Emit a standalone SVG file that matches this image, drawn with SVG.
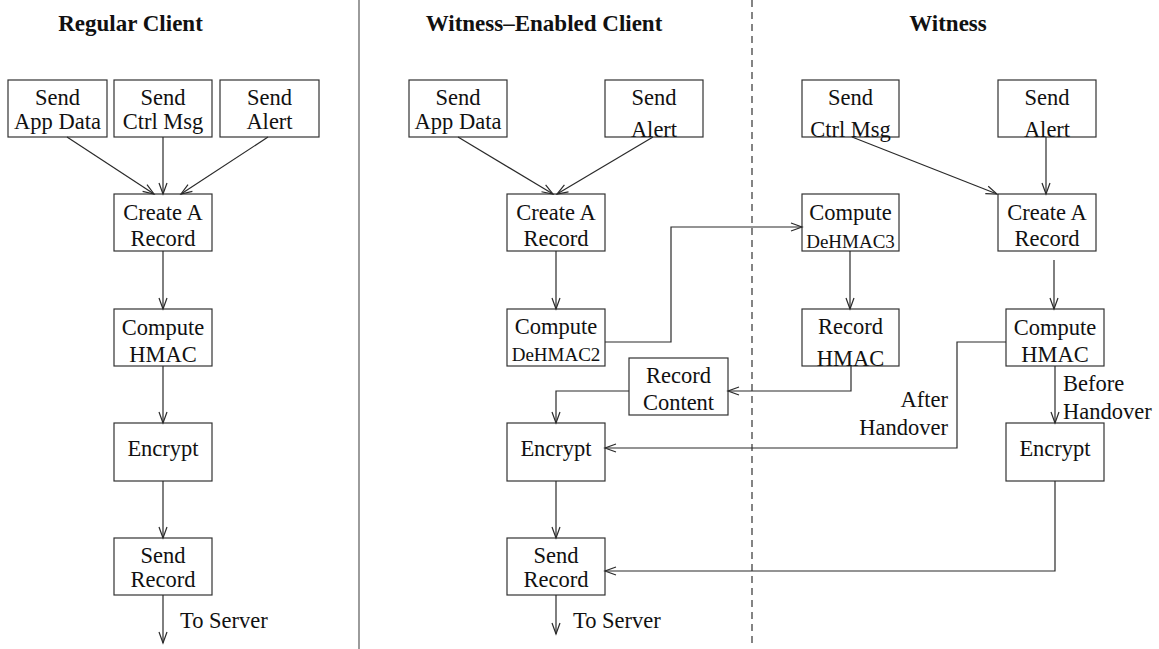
<svg xmlns="http://www.w3.org/2000/svg" width="1159" height="649" viewBox="0 0 1159 649">
<style>
  .box rect { fill: #fff; stroke: #333; stroke-width: 1.2; }
  .t { font-family: "Liberation Serif", "Times New Roman", serif; font-size: 22.5px; fill: #111; text-anchor: middle; }
  .s { font-size: 19px; }
  .title { font-family: "Liberation Serif", "Times New Roman", serif; font-size: 23px; font-weight: bold; fill: #111; text-anchor: middle; }
  .lbl { font-family: "Liberation Serif", "Times New Roman", serif; font-size: 22.5px; fill: #111; }
  #connectors line, #connectors polyline { fill: none; stroke: #2a2a2a; stroke-width: 1.2; marker-end: url(#arr); }
</style>
<defs>
  <marker id="arr" markerUnits="userSpaceOnUse" markerWidth="14" markerHeight="12" viewBox="-12 -6 14 12" refX="0" refY="0" orient="auto">
    <path d="M-11,-4 L0,0 L-11,4" fill="none" stroke="#2a2a2a" stroke-width="1.2"/>
  </marker>
</defs>
<rect width="1159" height="649" fill="#fff"/>
<line x1="359" y1="0" x2="359" y2="649" stroke="#666" stroke-width="1.3"/>
<line x1="752" y1="0" x2="752" y2="645" stroke="#333" stroke-width="1.2" stroke-dasharray="7,5"/>
<text class="title" x="130.5" y="31">Regular Client</text>
<text class="title" x="544" y="31">Witness–Enabled Client</text>
<text class="title" x="948" y="31">Witness</text>

<g id="rc-app"  class="box"><rect x="8" y="80" width="99" height="57"/><text class="t" x="57.5" y="105">Send</text><text class="t" x="57.5" y="129">App Data</text></g>
<g id="rc-ctrl" class="box"><rect x="114" y="80" width="98" height="57"/><text class="t" x="163" y="105">Send</text><text class="t" x="163" y="129">Ctrl Msg</text></g>
<g id="rc-alert" class="box"><rect x="220" y="80" width="99" height="57"/><text class="t" x="269.5" y="105">Send</text><text class="t" x="269.5" y="129">Alert</text></g>
<g id="rc-create" class="box"><rect x="114" y="194" width="98" height="57"/><text class="t" x="163" y="220">Create A</text><text class="t" x="163" y="246">Record</text></g>
<g id="rc-hmac" class="box"><rect x="114" y="309" width="98" height="57"/><text class="t" x="163" y="335">Compute</text><text class="t" x="163" y="362">HMAC</text></g>
<g id="rc-enc" class="box"><rect x="114" y="423" width="98" height="58"/><text class="t" x="163" y="456">Encrypt</text></g>
<g id="rc-send" class="box"><rect x="114" y="538" width="98" height="57"/><text class="t" x="163" y="563">Send</text><text class="t" x="163" y="587">Record</text></g>

<g id="wc-app" class="box"><rect x="409" y="80" width="98" height="57"/><text class="t" x="458" y="105">Send</text><text class="t" x="458" y="129">App Data</text></g>
<g id="wc-alert" class="box"><rect x="605" y="80" width="98" height="57"/><text class="t" x="654" y="105">Send</text><text class="t" x="654" y="137">Alert</text></g>
<g id="wc-create" class="box"><rect x="507" y="194" width="98" height="57"/><text class="t" x="556" y="220">Create A</text><text class="t" x="556" y="246">Record</text></g>
<g id="wc-dehmac2" class="box"><rect x="507" y="309" width="98" height="57"/><text class="t" x="556" y="334">Compute</text><text class="t s" x="556" y="361">DeHMAC2</text></g>
<g id="wc-content" class="box"><rect x="629" y="358" width="99" height="57"/><text class="t" x="678.5" y="383">Record</text><text class="t" x="678.5" y="410">Content</text></g>
<g id="wc-enc" class="box"><rect x="507" y="423" width="98" height="58"/><text class="t" x="556" y="456">Encrypt</text></g>
<g id="wc-send" class="box"><rect x="507" y="538" width="98" height="57"/><text class="t" x="556" y="563">Send</text><text class="t" x="556" y="587">Record</text></g>

<g id="w-ctrl" class="box"><rect x="802" y="80" width="97" height="57"/><text class="t" x="850.5" y="105">Send</text><text class="t" x="850.5" y="137">Ctrl Msg</text></g>
<g id="w-alert" class="box"><rect x="998" y="80" width="98" height="57"/><text class="t" x="1047" y="105">Send</text><text class="t" x="1047" y="137">Alert</text></g>
<g id="w-dehmac3" class="box"><rect x="802" y="194" width="97" height="57"/><text class="t" x="850.5" y="220">Compute</text><text class="t s" x="850.5" y="248">DeHMAC3</text></g>
<g id="w-create" class="box"><rect x="998" y="194" width="98" height="57"/><text class="t" x="1047" y="220">Create A</text><text class="t" x="1047" y="246">Record</text></g>
<g id="w-rhmac" class="box"><rect x="802" y="309" width="97" height="57"/><text class="t" x="850.5" y="334">Record</text><text class="t" x="850.5" y="366">HMAC</text></g>
<g id="w-hmac" class="box"><rect x="1006" y="309" width="98" height="57"/><text class="t" x="1055" y="335">Compute</text><text class="t" x="1055" y="362">HMAC</text></g>
<g id="w-enc" class="box"><rect x="1006" y="423" width="98" height="58"/><text class="t" x="1055" y="456">Encrypt</text></g>

<g id="connectors">
  <line x1="67" y1="137" x2="154" y2="194"/>
  <line x1="163" y1="137" x2="163" y2="194"/>
  <line x1="268" y1="137" x2="181" y2="194"/>
  <line x1="163" y1="251" x2="163" y2="309"/>
  <line x1="163" y1="366" x2="163" y2="423"/>
  <line x1="163" y1="481" x2="163" y2="538"/>
  <line x1="163" y1="595" x2="163" y2="643"/>

  <line x1="458" y1="137" x2="553" y2="194"/>
  <line x1="653" y1="137" x2="557" y2="194"/>
  <line x1="556" y1="251" x2="556" y2="309"/>
  <polyline points="605,342 671,342 671,227 802,227"/>
  <polyline points="851,366 851,391 728,391"/>
  <polyline points="629,391 556,391 556,423"/>
  <line x1="556" y1="481" x2="556" y2="538"/>
  <line x1="556" y1="595" x2="556" y2="634"/>
  <polyline points="1006,342 957,342 957,448 605,448"/>
  <polyline points="1055,481 1055,571 605,571"/>

  <line x1="852" y1="137" x2="997" y2="194"/>
  <line x1="1046" y1="137" x2="1046" y2="194"/>
  <line x1="850" y1="251" x2="850" y2="309"/>
  <line x1="1054" y1="260" x2="1054" y2="309"/>
  <line x1="1055" y1="366" x2="1055" y2="423"/>
</g>

<text class="lbl" x="180" y="628">To Server</text>
<text class="lbl" x="573" y="628">To Server</text>
<text class="lbl" x="948" y="407" text-anchor="end">After</text>
<text class="lbl" x="948" y="435" text-anchor="end">Handover</text>
<text class="lbl" x="1063" y="391">Before</text>
<text class="lbl" x="1063" y="419">Handover</text>
</svg>
